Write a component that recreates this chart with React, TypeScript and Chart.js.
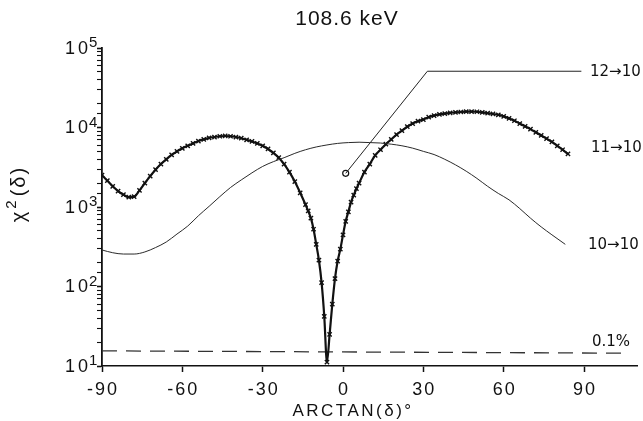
import React, { useEffect, useRef } from "react";
import { Chart, registerables } from "chart.js";

Chart.register(...registerables);

const TITLE = "108.6 keV";
const X_TITLE = "ARCTAN(δ)°";
const X_TICKS = [-90, -60, -30, 0, 30, 60, 90];
const Y_DECADES = [1, 2, 3, 4, 5];
const SERIES_LABELS = ["12→10", "11→10", "10→10", "0.1%"];

// 11 -> 10 (crosses)
const X_11 = [-90, -88, -86, -84, -82, -80, -78, -76, -74, -72, -70, -68, -66, -64, -62, -60, -58, -56, -54, -52, -50, -48, -46, -44, -42, -40, -38, -36, -34, -32, -30, -28, -26, -24, -22, -20, -18, -16, -14, -13, -12, -11, -10, -9, -8, -7, -6, -5, -4, -3, -2, -1, 0, 1, 2, 3, 4, 5, 6, 8, 10, 12, 14, 16, 18, 20, 22, 24, 26, 28, 30, 32, 34, 36, 38, 40, 42, 44, 46, 48, 50, 52, 54, 56, 58, 60, 62, 64, 66, 68, 70, 72, 74, 76, 78, 80, 82, 84];
const Y_11 = [2510, 2140, 1820, 1585, 1430, 1330, 1350, 1620, 2000, 2450, 2950, 3470, 3980, 4520, 5010, 5470, 5890, 6310, 6760, 7080, 7410, 7590, 7760, 7820, 7760, 7590, 7330, 7000, 6680, 6310, 5890, 5370, 4790, 4170, 3470, 2750, 2090, 1510, 1070, 891, 724, 525, 339, 214, 112, 42, 11.2, 25, 60, 126, 209, 295, 447, 661, 871, 1150, 1410, 1700, 2000, 2750, 3470, 4470, 5250, 6170, 7080, 8130, 9120, 10230, 11220, 12020, 12590, 13490, 14130, 14620, 14960, 15310, 15490, 15670, 15850, 15850, 15780, 15490, 15140, 14790, 14450, 13800, 13030, 12160, 11220, 10350, 9550, 8710, 7940, 7240, 6610, 5890, 5250, 4650];

// 10 -> 10 (thin line)
const X_10 = [-90, -86, -82, -78, -74, -70, -66, -62, -58, -54, -50, -46, -42, -38, -34, -30, -26, -22, -18, -14, -10, -6, -2, 2, 6, 10, 14, 18, 22, 26, 30, 34, 38, 42, 46, 50, 54, 58, 62, 66, 70, 74, 78, 83];
const Y_10 = [288, 266, 256, 256, 272, 309, 363, 457, 575, 776, 1020, 1350, 1760, 2190, 2690, 3240, 3720, 4170, 4730, 5250, 5690, 6030, 6310, 6460, 6530, 6460, 6380, 6170, 5890, 5500, 5010, 4570, 3980, 3390, 2820, 2290, 1820, 1480, 1230, 955, 724, 562, 447, 339];

// 12 -> 10 (single point) and its leader line
const X_12 = [1];
const Y_12 = [2650];
const LEADER_X = [1, 31.5, 89];
const LEADER_Y = [2650, 51000, 51000];

// 0.1% limit
const LIMIT_X = [-90, 105];
const LIMIT_Y = [15.5, 14.5];

const pts = (xs: number[], ys: number[]) => xs.map((x, i) => ({ x, y: ys[i] }));

const FONT = '"Liberation Sans", Arial, Helvetica, sans-serif';
const LABEL_FONT = '"DejaVu Sans", "Liberation Sans", sans-serif';

const textPlugin = {
  id: "textPlugin",
  afterDraw(chart: any) {
    const ctx = chart.ctx as CanvasRenderingContext2D;
    const xs = chart.scales.x;
    const ys = chart.scales.y;
    ctx.save();
    ctx.fillStyle = "#111";

    // title
    ctx.font = `21px ${FONT}`;
    (ctx as any).letterSpacing = "1px";
    ctx.textAlign = "center";
    ctx.textBaseline = "middle";
    ctx.fillText(TITLE, 347, 19);

    // x tick labels
    ctx.font = `18px ${FONT}`;
    (ctx as any).letterSpacing = "2px";
    X_TICKS.forEach((v) => {
      ctx.fillText(String(v), xs.getPixelForValue(v) + 1, 390);
    });

    // x axis title
    ctx.font = `17px ${FONT}`;
    (ctx as any).letterSpacing = "2.5px";
    ctx.fillText(X_TITLE, 353, 411);

    // y tick labels 10^n
    Y_DECADES.forEach((e) => {
      const y = ys.getPixelForValue(Math.pow(10, e));
      ctx.font = `18px ${FONT}`;
      (ctx as any).letterSpacing = "3px";
      ctx.textAlign = "right";
      ctx.textBaseline = "middle";
      ctx.fillText("10", 91, y + 1);
      ctx.font = `15px ${FONT}`;
      (ctx as any).letterSpacing = "0px";
      ctx.textAlign = "left";
      ctx.textBaseline = "alphabetic";
      ctx.fillText(String(e), 89, y - 1);
    });

    // y axis title chi^2(delta), rotated
    ctx.save();
    ctx.translate(19, 194);
    ctx.rotate(-Math.PI / 2);
    ctx.textAlign = "left";
    ctx.textBaseline = "alphabetic";
    (ctx as any).letterSpacing = "0px";
    ctx.font = `20px ${FONT}`;
    const wChi = ctx.measureText("χ").width;
    ctx.font = `15px ${FONT}`;
    const w2 = ctx.measureText("2").width;
    ctx.font = `20px ${FONT}`;
    (ctx as any).letterSpacing = "2px";
    const wP = ctx.measureText("(δ)").width;
    const total = wChi + 3 + w2 + 4 + wP;
    let u = -total / 2;
    (ctx as any).letterSpacing = "0px";
    ctx.font = `20px ${FONT}`;
    ctx.fillText("χ", u, 6);
    u += wChi + 3;
    ctx.font = `15px ${FONT}`;
    ctx.fillText("2", u, -3);
    u += w2 + 4;
    ctx.font = `20px ${FONT}`;
    (ctx as any).letterSpacing = "2px";
    ctx.fillText("(δ)", u, 6);
    ctx.restore();

    // right-hand series labels
    ctx.font = `15px ${LABEL_FONT}`;
    (ctx as any).letterSpacing = "0px";
    ctx.textAlign = "left";
    ctx.textBaseline = "middle";
    const pos = [
      [590, 72],
      [591, 148],
      [588, 245],
      [592, 342],
    ];
    SERIES_LABELS.forEach((t, i) => {
      ctx.fillText(t, pos[i][0], pos[i][1], 643 - pos[i][0]);
    });

    ctx.restore();
  },
};

export default function App() {
  const ref = useRef<HTMLCanvasElement | null>(null);

  useEffect(() => {
    if (!ref.current) return;
    const chart = new Chart(ref.current, {
      type: "line",
      data: {
        datasets: [
          {
            label: "10→10",
            data: pts(X_10, Y_10),
            borderColor: "#2a2a2a",
            borderWidth: 1,
            pointRadius: 0,
            cubicInterpolationMode: "monotone",
            fill: false,
          },
          {
            label: "11→10",
            data: pts(X_11, Y_11),
            borderColor: "#111",
            borderWidth: 2.2,
            pointStyle: "crossRot",
            pointRadius: 3,
            pointBorderWidth: 1.4,
            pointBorderColor: "#111",
            cubicInterpolationMode: "monotone",
            fill: false,
          },
          {
            label: "leader",
            data: pts(LEADER_X, LEADER_Y),
            borderColor: "#222",
            borderWidth: 1,
            pointRadius: 0,
            tension: 0,
            fill: false,
          },
          {
            label: "12→10",
            data: pts(X_12, Y_12),
            showLine: false,
            pointStyle: "circle",
            pointRadius: 3,
            pointBorderWidth: 1.2,
            pointBorderColor: "#111",
            pointBackgroundColor: "#fff",
          },
          {
            label: "0.1%",
            data: pts(LIMIT_X, LIMIT_Y),
            borderColor: "#333",
            borderWidth: 1.3,
            borderDash: [15, 9],
            pointRadius: 0,
            tension: 0,
            fill: false,
          },
        ],
      },
      options: {
        animation: false,
        responsive: false,
        devicePixelRatio: 1,
        layout: { padding: { left: 0, right: 1, top: 48, bottom: 0 } },
        plugins: {
          legend: { display: false },
          title: { display: false },
          tooltip: { enabled: false },
        },
        scales: {
          x: {
            type: "linear",
            min: -90,
            max: 110,
            ticks: { display: false },
            afterBuildTicks: (scale: any) => {
              scale.ticks = X_TICKS.map((v) => ({ value: v }));
            },
            afterFit: (scale: any) => {
              scale.height = 55;
            },
            grid: {
              drawOnChartArea: false,
              drawTicks: true,
              tickLength: 6,
              tickColor: "#111",
              tickWidth: 1.5,
            },
            border: { display: true, color: "#111", width: 1.6 },
          },
          y: {
            type: "logarithmic",
            min: 10,
            max: 100000,
            ticks: { display: false, autoSkip: false },
            afterFit: (scale: any) => {
              scale.width = 102;
            },
            grid: {
              drawOnChartArea: false,
              drawTicks: true,
              tickLength: 5,
              tickColor: "#111",
              tickWidth: (c: any) => {
                const v = c.tick ? c.tick.value : 0;
                const l = Math.log10(v);
                return Math.abs(l - Math.round(l)) < 1e-6 ? 1.6 : 1.1;
              },
            },
            border: { display: true, color: "#111", width: 1.8 },
          },
        },
      },
      plugins: [textPlugin],
    } as any);
    return () => chart.destroy();
  }, []);

  return (
    <div style={{ position: "absolute", left: 0, top: 0, width: 643, height: 421, background: "#fff" }}>
      <canvas ref={ref} width={643} height={421} style={{ display: "block" }} />
    </div>
  );
}
